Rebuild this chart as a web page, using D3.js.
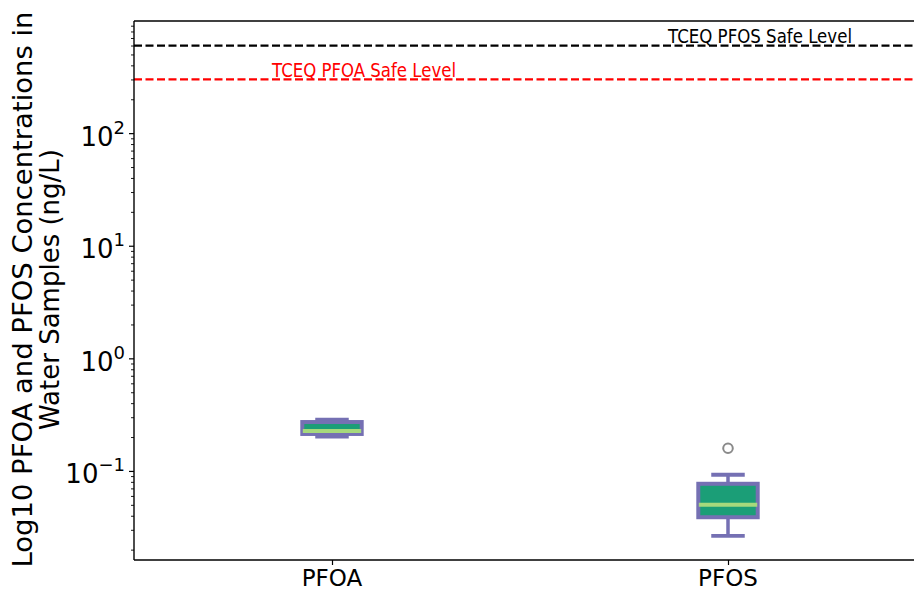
<!DOCTYPE html>
<html><head><meta charset="utf-8">
<script src="https://cdn.jsdelivr.net/npm/d3@7"></script>
<style>html,body{margin:0;padding:0;background:#fff;overflow:hidden}</style>
</head><body>
<svg id="chart" width="914" height="592"></svg>
<script>
// ---- data ----
const categories = ["PFOA", "PFOS"];
const whiskerLow  = [0.202, 0.0265];
const q1          = [0.213, 0.0388];
const median      = [0.226, 0.0501];
const q3          = [0.2718, 0.0769];
const whiskerHigh = [0.286, 0.0925];
const fliers      = [[], [0.159]];
const refLevels   = [600, 300];
const refLabels   = ["TCEQ PFOS Safe Level", "TCEQ PFOA Safe Level"];
const yTicks      = [0.1, 1, 10, 100];
const yTickExp    = ["\u22121", "0", "1", "2"];

const svg = d3.select("#chart");
const L = 134, T = 21, B = 560, R = 926;
const font = "DejaVu Sans";

const x = d3.scaleLinear().domain([0.5, 2.5]).range([L, R]);
const y = d3.scaleLog().domain([Math.pow(10, -1.791), Math.pow(10, 2.996)]).range([B, T]);

const g = svg.append("g");

// reference lines
const refColors = ["#000000", "#ff0000"];
refLevels.forEach((v, i) => {
  g.append("line").attr("x1", L).attr("x2", R).attr("y1", y(v)).attr("y2", y(v))
    .attr("stroke", refColors[i]).attr("stroke-width", 2.2).attr("stroke-dasharray", "8,3.5");
});
const refTextX = [668, 272];
const refTextDy = [-3, -2];
refLabels.forEach((t, i) => {
  g.append("text").attr("x", refTextX[i]).attr("y", y(refLevels[i]) + refTextDy[i])
    .attr("font-family", font).attr("font-size", 19).attr("fill", refColors[i])
    .attr("textLength", 184).attr("lengthAdjust", "spacingAndGlyphs").text(t);
});

// boxes
const boxW = 0.15, capW = 0.075;
const edge = "#7570b3", fill = "#1b9e77", medC = "#a6d97c";
categories.forEach((c, i) => {
  const cx = i + 1;
  const bg = g.append("g");
  // whiskers
  bg.append("line").attr("x1", x(cx)).attr("x2", x(cx)).attr("y1", y(q1[i])).attr("y2", y(whiskerLow[i]))
    .attr("stroke", edge).attr("stroke-width", 3.5);
  bg.append("line").attr("x1", x(cx)).attr("x2", x(cx)).attr("y1", y(q3[i])).attr("y2", y(whiskerHigh[i]))
    .attr("stroke", edge).attr("stroke-width", 3.5);
  // caps
  [whiskerLow[i], whiskerHigh[i]].forEach(v => {
    bg.append("line").attr("x1", x(cx - capW / 2)).attr("x2", x(cx + capW / 2)).attr("y1", y(v)).attr("y2", y(v))
      .attr("stroke", edge).attr("stroke-width", 3.8).attr("stroke-linecap", "square");
  });
  // box
  bg.append("rect").attr("x", x(cx - boxW / 2)).attr("width", x(cx + boxW / 2) - x(cx - boxW / 2))
    .attr("y", y(q3[i])).attr("height", y(q1[i]) - y(q3[i]))
    .attr("fill", fill).attr("stroke", edge).attr("stroke-width", 4);
  // median
  bg.append("line").attr("x1", x(cx - boxW / 2) + 0.5).attr("x2", x(cx + boxW / 2) - 0.5)
    .attr("y1", y(median[i])).attr("y2", y(median[i])).attr("stroke", medC).attr("stroke-width", 4);
  // fliers
  fliers[i].forEach(v => {
    bg.append("circle").attr("cx", x(cx)).attr("cy", y(v)).attr("r", 4.8)
      .attr("fill", "none").attr("stroke", "#8a8a8a").attr("stroke-width", 2);
  });
});

// spines
svg.append("line").attr("x1", L).attr("x2", R).attr("y1", T).attr("y2", T).attr("stroke", "#000").attr("stroke-width", 1.4);
svg.append("line").attr("x1", L).attr("x2", R).attr("y1", B).attr("y2", B).attr("stroke", "#000").attr("stroke-width", 1.4);
svg.append("line").attr("x1", L).attr("x2", L).attr("y1", T).attr("y2", B).attr("stroke", "#000").attr("stroke-width", 1.4);

// y axis ticks
const yAxis = d3.axisLeft(y).tickValues(yTicks).tickSize(5).tickFormat("");
const ya = svg.append("g").attr("transform", `translate(${L},0)`).call(yAxis);
ya.select(".domain").remove();
ya.selectAll(".tick line").attr("stroke-width", 1.2);
// minor ticks
const minors = [];
for (let e = -2; e <= 2; e++) for (let m = 2; m <= 9; m++) {
  const v = m * Math.pow(10, e);
  if (v >= y.domain()[0] && v <= y.domain()[1]) minors.push(v);
}
const ym = svg.append("g").attr("transform", `translate(${L},0)`)
  .call(d3.axisLeft(y).tickValues(minors).tickSize(3).tickFormat(""));
ym.select(".domain").remove();
ym.selectAll(".tick line").attr("stroke-width", 0.9);

// y tick labels (10^n)
yTicks.forEach((v, i) => {
  const t = svg.append("text").attr("font-family", font).attr("font-size", 26)
    .attr("text-anchor", "end").attr("x", L - 9).attr("y", y(v) + 12.5).attr("fill", "#000");
  t.append("tspan").text("10");
  t.append("tspan").attr("font-size", 18).attr("dy", -12).text(yTickExp[i]);
});

// x axis
const xa = svg.append("g").attr("transform", `translate(0,${B})`)
  .call(d3.axisBottom(x).tickValues([1, 2]).tickSize(5).tickFormat(""));
xa.select(".domain").remove();
xa.selectAll(".tick line").attr("stroke-width", 1.2);
categories.forEach((c, i) => {
  svg.append("text").attr("x", x(i + 1)).attr("y", 586).attr("text-anchor", "middle")
    .attr("font-family", font).attr("font-size", 23).attr("fill", "#000").text(c);
});

// y label
const yl = svg.append("g").attr("transform", "translate(0,289.5) rotate(-90)");
yl.append("text").attr("x", 0).attr("y", 32).attr("text-anchor", "middle")
  .attr("font-family", font).attr("font-size", 26).attr("textLength", 556).attr("lengthAdjust", "spacingAndGlyphs")
  .text("Log10 PFOA and PFOS Concentrations in");
yl.append("text").attr("x", 0).attr("y", 59).attr("text-anchor", "middle")
  .attr("font-family", font).attr("font-size", 26)
  .text("Water Samples (ng/L)");
</script>
</body></html>
